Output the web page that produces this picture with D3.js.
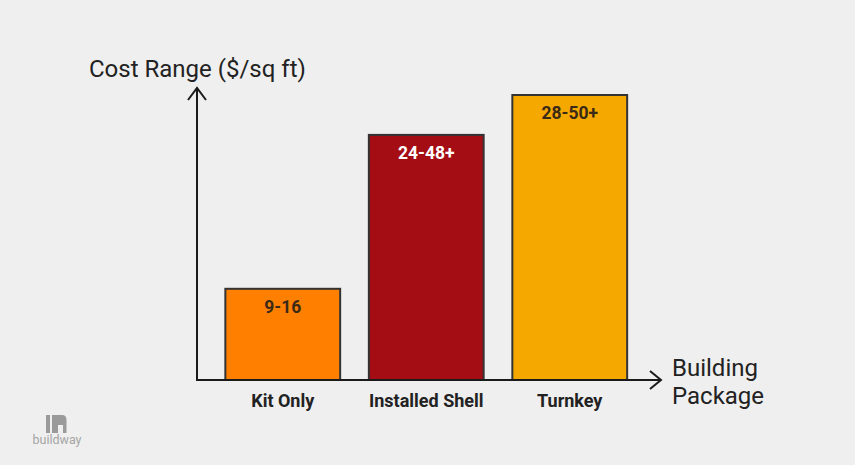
<!DOCTYPE html>
<html><head><meta charset="utf-8">
<script src="https://cdn.jsdelivr.net/npm/d3@7"></script>
<style>html,body{margin:0;padding:0;background:#efefef;}svg{display:block;}</style>
</head><body>
<script>
const categories = ["Kit Only", "Installed Shell", "Turnkey"];
const rangeLabels = ["9-16", "24-48+", "28-50+"];
const barValues = [16, 43, 50];
const barColors = ["#ff8000", "#a50d14", "#f5a800"];
const labelColors = ["#3b2a16", "#ffffff", "#3b2a16"];

const W = 855, H = 465;
const svg = d3.select("body").append("svg").attr("width", W).attr("height", H);
svg.append("rect").attr("width", W).attr("height", H).attr("fill", "#efefef");

const x = d3.scaleBand().domain(categories).range([211, 641.5]).paddingInner(0.2).paddingOuter(0.1);
const y = d3.scaleLinear().domain([0, 50]).range([380, 95]);

const font = "Roboto, 'Liberation Sans', Arial, sans-serif";

// bars
svg.selectAll("rect.bar").data(categories).enter().append("rect")
  .attr("class", "bar")
  .attr("x", d => x(d)).attr("width", x.bandwidth())
  .attr("y", (d, i) => y(barValues[i])).attr("height", (d, i) => y(0) - y(barValues[i]))
  .attr("fill", (d, i) => barColors[i])
  .attr("stroke", "#333").attr("stroke-width", 2);

// value labels
svg.selectAll("text.val").data(categories).enter().append("text")
  .attr("x", d => x(d) + x.bandwidth() / 2)
  .attr("y", (d, i) => y(barValues[i]) + 24)
  .attr("text-anchor", "middle")
  .attr("font-family", font).attr("font-weight", "bold").attr("font-size", 17.5)
  .attr("fill", (d, i) => labelColors[i])
  .text((d, i) => rangeLabels[i]);

// category labels
svg.selectAll("text.cat").data(categories).enter().append("text")
  .attr("x", d => x(d) + x.bandwidth() / 2)
  .attr("y", 407)
  .attr("text-anchor", "middle")
  .attr("font-family", font).attr("font-weight", "bold").attr("font-size", 18)
  .attr("fill", "#222")
  .text(d => d);

// axes
const ax = svg.append("g").attr("stroke", "#1a1a1a").attr("stroke-width", 2).attr("fill", "none");
ax.append("line").attr("x1", 197).attr("y1", 381).attr("x2", 197).attr("y2", 88);
ax.append("path").attr("d", "M188,100 L197,88 L206,100");
ax.append("line").attr("x1", 196).attr("y1", 380).attr("x2", 661).attr("y2", 380);
ax.append("path").attr("d", "M650,371 L661,380 L650,389");

svg.append("text").attr("x", 89).attr("y", 77)
  .attr("font-family", font).attr("font-size", 24).attr("fill", "#222")
  .text("Cost Range ($/sq ft)");
const bp = svg.append("text").attr("font-family", font).attr("font-size", 24).attr("fill", "#222");
bp.append("tspan").attr("x", 672).attr("y", 376).text("Building");
bp.append("tspan").attr("x", 672).attr("y", 404).text("Package");

// logo
const lg = svg.append("g").attr("fill", "#9a9a9a");
lg.append("rect").attr("x", 46).attr("y", 415).attr("width", 4).attr("height", 18);
lg.append("path").attr("d", "M52,415 L62,415 Q66.5,415 66.5,420 L66.5,433 L63,433 L63,425 L58,425 L58,433 L52,433 Z");
lg.append("text").attr("x", 57).attr("y", 444).attr("text-anchor", "middle")
  .attr("font-family", font).attr("font-size", 12.5).attr("fill", "#a5a5a5").text("buildway");
</script>
</body></html>
